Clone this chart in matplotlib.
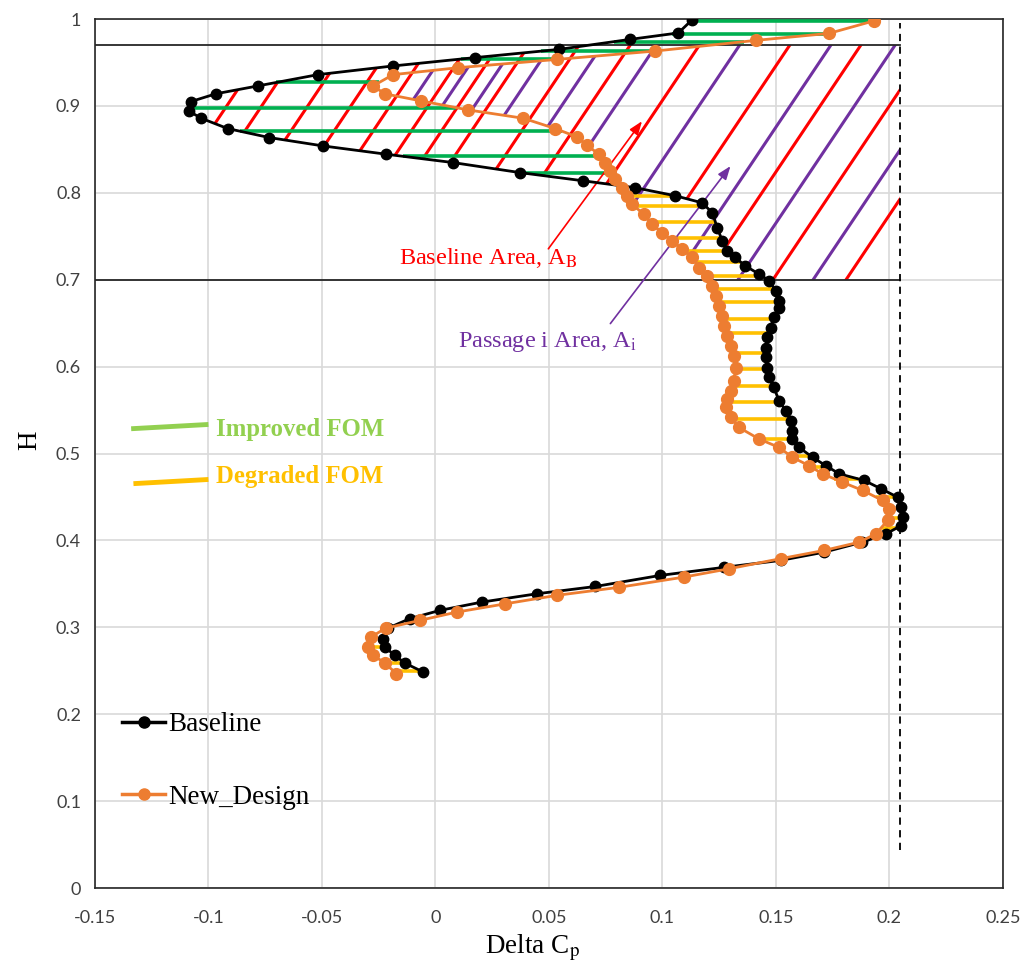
import numpy as np
import matplotlib
matplotlib.use("Agg")
import matplotlib.pyplot as plt
from matplotlib.patches import Polygon
from matplotlib.lines import Line2D

# Baseline curve (Delta Cp, H), top to bottom
base_h = [0.999, 0.984, 0.9766, 0.965, 0.9556, 0.946, 0.936, 0.923, 0.914, 0.905,
          0.894, 0.886, 0.874, 0.8636, 0.854, 0.8444, 0.8348, 0.8233, 0.8138, 0.806,
          0.7966, 0.7885, 0.777, 0.760, 0.745, 0.733, 0.7256, 0.716, 0.7065, 0.699,
          0.687, 0.676, 0.667, 0.657, 0.645, 0.634, 0.622, 0.611, 0.599, 0.5877,
          0.576, 0.561, 0.549, 0.538, 0.526, 0.5168, 0.507, 0.4957, 0.486, 0.4766,
          0.469, 0.4594, 0.4498, 0.438, 0.427, 0.417, 0.4076, 0.398, 0.3865, 0.377,
          0.369, 0.3598, 0.347, 0.3386, 0.329, 0.3195, 0.31, 0.299, 0.287, 0.2774,
          0.268, 0.259, 0.2486]
base_cp = [0.1130, 0.107, 0.0858, 0.0542, 0.0174, -0.0187, -0.0518, -0.0783, -0.0967, -0.1078,
           -0.1085, -0.1034, -0.0916, -0.0732, -0.0496, -0.0216, 0.0078, 0.0372, 0.0652, 0.0878,
           0.1057, 0.1175, 0.122, 0.1241, 0.1263, 0.1285, 0.132, 0.1365, 0.1425, 0.147,
           0.150, 0.1514, 0.1514, 0.149, 0.1477, 0.1462, 0.1455, 0.1455, 0.146, 0.147,
           0.149, 0.1514, 0.1543, 0.1565, 0.157, 0.1572, 0.1602, 0.1661, 0.172, 0.1779,
           0.1889, 0.1963, 0.2036, 0.2051, 0.2058, 0.2051, 0.1985, 0.188, 0.1712, 0.152,
           0.127, 0.0991, 0.0704, 0.0446, 0.0203, 0.0019, -0.0113, -0.021, -0.0231, -0.0224,
           -0.018, -0.0136, -0.0054]

# New design curve
new_h = [0.998, 0.9835, 0.9754, 0.9632, 0.9535, 0.944, 0.936, 0.923, 0.914, 0.9057,
         0.8954, 0.8858, 0.874, 0.8644, 0.855, 0.8444, 0.8348, 0.8253, 0.8157, 0.806,
         0.7966, 0.787, 0.7754, 0.7638, 0.7543, 0.745, 0.7352, 0.7256, 0.714, 0.7046,
         0.693, 0.6816, 0.670, 0.6586, 0.647, 0.6356, 0.624, 0.6126, 0.599, 0.584,
         0.5724, 0.5628, 0.553, 0.5417, 0.530, 0.5168, 0.507, 0.4957, 0.486, 0.4766,
         0.467, 0.4575, 0.446, 0.4364, 0.423, 0.4076, 0.398, 0.3885, 0.379, 0.3674,
         0.3578, 0.346, 0.3368, 0.327, 0.3175, 0.308, 0.299, 0.289, 0.2774, 0.268,
         0.259, 0.2467]
new_cp = [0.1933, 0.1734, 0.141, 0.0969, 0.0534, 0.010, -0.0187, -0.0275, -0.0224, -0.0062,
          0.0144, 0.0387, 0.0527, 0.0623, 0.0667, 0.0719, 0.0748, 0.077, 0.0792, 0.0822,
          0.0844, 0.0866, 0.0917, 0.0954, 0.0998, 0.1042, 0.1087, 0.1131, 0.116, 0.1197,
          0.1219, 0.1234, 0.1249, 0.1263, 0.127, 0.1285, 0.130, 0.1315, 0.1322, 0.1315,
          0.130, 0.1285, 0.1278, 0.130, 0.1337, 0.1425, 0.1514, 0.1572, 0.1646, 0.1705,
          0.1793, 0.1882, 0.197, 0.200, 0.1992, 0.194, 0.1867, 0.1712, 0.152, 0.1293,
          0.1094, 0.0807, 0.0534, 0.0306, 0.0093, -0.0069, -0.022, -0.0283, -0.0297, -0.0275,
          -0.0224, -0.0172]

# H levels where the improved / degraded FOM bars are drawn
fom_levels = [0.998, 0.983, 0.974, 0.963, 0.954, 0.927, 0.898, 0.871, 0.842, 0.8226,
              0.7966, 0.785, 0.766, 0.7486, 0.733, 0.72, 0.7046, 0.689, 0.674, 0.655,
              0.639, 0.616, 0.597, 0.578, 0.559, 0.540, 0.517, 0.4966, 0.485, 0.471,
              0.450, 0.426, 0.4145, 0.2774, 0.259, 0.2494]

# integration window and reference line
h_low, h_high = 0.70, 0.97
cp_ref = 0.2045
ref_span = [0.044, 0.995]

# hatch lines: Delta Cp where each one crosses H = 0.9057
hatch_h = 0.9057
hatch_slope = 3.9
red_hatch = [-0.0905, -0.0751, -0.0548, -0.0358, -0.0186, -0.0018, 0.0115, 0.0247,
             0.0468, 0.0693, 0.0998, 0.1396, 0.1709, 0.2014, 0.2336]
purple_hatch = [-0.0102, 0.0044, 0.0186, 0.0345, 0.057, 0.0808, 0.1175, 0.1577,
                0.186, 0.2191]

RED = "#FF0000"
PURPLE = "#7030A0"
GREEN = "#00B050"
LGREEN = "#92D050"
GOLD = "#FFC000"
ORANGE = "#ED7D31"

plt.rcParams["mathtext.fontset"] = "stix"
serif = "Liberation Serif"

fig = plt.figure(figsize=(10.27, 9.66), dpi=100)
ax = fig.add_axes([0.0925, 0.0807, 0.8841, 0.8996])

ax.set_xlim(-0.15, 0.25)
ax.set_ylim(0, 1)
ax.set_xticks(np.arange(-0.15, 0.2501, 0.05))
ax.set_yticks(np.arange(0, 1.01, 0.1))
ax.set_xticklabels(["-0.15", "-0.1", "-0.05", "0", "0.05", "0.1", "0.15", "0.2", "0.25"])
ax.set_yticklabels(["0", "0.1", "0.2", "0.3", "0.4", "0.5", "0.6", "0.7", "0.8", "0.9", "1"])
ax.tick_params(length=0, labelsize=13, labelcolor="#404040")
ax.tick_params(axis="x", pad=16)
ax.tick_params(axis="y", pad=10)
for lab in ax.get_xticklabels() + ax.get_yticklabels():
    lab.set_family("Lato")
ax.grid(True, color="#d9d9d9", lw=1.2)
ax.set_axisbelow(True)
for sp in ax.spines.values():
    sp.set_color("#262626")
    sp.set_linewidth(1.2)

ax.set_xlabel("Delta C$_\\mathrm{p}$", family=serif, fontsize=19.5)
ax.xaxis.set_label_coords(0.482, -0.051)
ax.set_ylabel("H", family=serif, fontsize=19.5)
ax.yaxis.set_label_coords(-0.058, 0.515)

# sort curves by H for interpolation
bh = np.array(base_h)[::-1]
bx = np.array(base_cp)[::-1]
nh = np.array(new_h)[::-1]
nx = np.array(new_cp)[::-1]


def region(hs, xs):
    m = (hs > h_low) & (hs < h_high)
    yy = np.concatenate([[h_low], hs[m], [h_high]])
    xx = np.interp(yy, hs, xs)
    verts = list(zip(xx, yy)) + [(cp_ref, h_high), (cp_ref, h_low)]
    return Polygon(verts, closed=True, facecolor="none", edgecolor="none",
                   transform=ax.transData)


red_clip = region(bh, bx)
purple_clip = region(nh, nx)
ax.add_patch(red_clip)
ax.add_patch(purple_clip)

yy = np.array([h_low - 0.05, h_high + 0.05])
for c in red_hatch:
    ln, = ax.plot(c + (yy - hatch_h) / hatch_slope, yy, color=RED, lw=2.2, zorder=2)
    ln.set_clip_path(red_clip)
for c in purple_hatch:
    ln, = ax.plot(c + (yy - hatch_h) / hatch_slope, yy, color=PURPLE, lw=2.2, zorder=2)
    ln.set_clip_path(purple_clip)

# window borders and reference line
ax.plot([-0.15, cp_ref], [h_high, h_high], color="#262626", lw=1.3, zorder=3)
ax.plot([-0.15, cp_ref], [h_low, h_low], color="#262626", lw=1.3, zorder=3)
ax.plot([cp_ref, cp_ref], ref_span, color="black", lw=1.3, ls=(0, (4, 3)), zorder=3)

# improved / degraded bars
for lv in fom_levels:
    xb = np.interp(lv, bh, bx)
    xn = np.interp(lv, nh, nx)
    col = GREEN if xn > xb else GOLD
    ax.plot([xb, xn], [lv, lv], color=col, lw=2.6, zorder=3, solid_capstyle="butt")

ax.plot(base_cp, base_h, color="black", lw=2.0, marker="o", ms=7.5, zorder=4)
ax.plot(new_cp, new_h, color=ORANGE, lw=2.0, marker="o", ms=8.5, zorder=5)

# annotations
ax.annotate("", xy=(0.0917, 0.885), xytext=(0.049, 0.733),
            arrowprops=dict(arrowstyle="-|>,head_length=0.8,head_width=0.3", color=RED, lw=1.2))
ax.text(0.0234, 0.725, "Baseline Area, A$_\\mathrm{B}$", color=RED, family=serif,
        fontsize=17.5, ha="center", va="center")
ax.annotate("", xy=(0.1307, 0.8333), xytext=(0.0763, 0.647),
            arrowprops=dict(arrowstyle="-|>,head_length=0.8,head_width=0.3", color=PURPLE, lw=1.2))
ax.text(0.0495, 0.628, "Passage i Area, A$_\\mathrm{i}$", color=PURPLE, family=serif,
        fontsize=17.5, ha="center", va="center")

# FOM key
ax.plot([-0.133, -0.1011], [0.5287, 0.5333], color=LGREEN, lw=3.5)
ax.text(-0.0967, 0.5276, "Improved FOM", color=LGREEN, family=serif, fontsize=17.8,
        weight="bold", va="center")
ax.plot([-0.132, -0.1011], [0.4655, 0.470], color=GOLD, lw=3.5)
ax.text(-0.0967, 0.4736, "Degraded FOM", color=GOLD, family=serif, fontsize=17.8,
        weight="bold", va="center")

handles = [Line2D([], [], color="black", lw=2.5, marker="o", ms=8),
           Line2D([], [], color=ORANGE, lw=2.5, marker="o", ms=8)]
ax.legend(handles, ["Baseline", "New_Design"], loc="upper left",
          bbox_to_anchor=(0.009, 0.224), frameon=False, handlelength=1.6,
          handletextpad=0.12, labelspacing=1.75, borderaxespad=0.3,
          prop={"family": serif, "size": 19.5})

fig.savefig("out.png", dpi=100)
